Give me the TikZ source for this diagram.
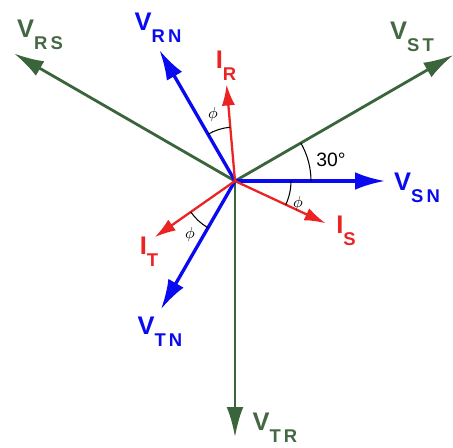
\documentclass[tikz,border=0pt]{standalone}
\usepackage{fontspec}
\setmainfont{Liberation Sans}
\usetikzlibrary{arrows.meta}

\definecolor{linegreen}{RGB}{58,100,58}
\definecolor{phaseblue}{RGB}{10,10,240}
\definecolor{currred}{RGB}{235,35,35}

\newcommand{\sub}[1]{\raisebox{-7pt}{\fontsize{10.5}{10.5}\selectfont #1}}

\tikzset{
  linevec/.style={linegreen,line width=1.6pt,-{Latex[length=17pt,width=9.5pt]}},
  phasevec/.style={phaseblue,line width=1.9pt,-{Latex[length=17pt,width=10pt]}},
  currvec/.style={currred,line width=1.3pt,-{Latex[length=12pt,width=7.5pt]}},
  lbl/.style={inner sep=0pt,font=\fontsize{14.5}{14.5}\selectfont\bfseries},
  angarc/.style={black,line width=0.6pt},
  anglbl/.style={inner sep=0pt,font=\fontsize{9}{9}\selectfont}
}

\begin{document}
\begin{tikzpicture}[x=0.02cm,y=0.02cm]
    \path[use as bounding box] (-235,-266) rectangle (218,181);

    % Origin
    \coordinate (O) at (0,0);

    % Line voltages
    \coordinate (vst) at (30:252);
    \coordinate (vrs) at (150:255);
    \coordinate (vtr) at (-90:256);
    \draw[linevec] (O) -- (vst);
    \draw[linevec] (O) -- (vrs);
    \draw[linevec] (O) -- (vtr);

    % Phase voltages
    \coordinate (vsn) at (0:150);
    \coordinate (vrn) at (120:151);
    \coordinate (vtn) at (240:148);
    \draw[phasevec] (O) -- (vsn);
    \draw[phasevec] (O) -- (vrn);
    \draw[phasevec] (O) -- (vtn);

    % Currents
    \coordinate (ir) at (95:97);
    \coordinate (is) at (-25:100);
    \coordinate (it) at (215:98);
    \draw[currvec] (O) -- (ir);
    \draw[currvec] (O) -- (is);
    \draw[currvec] (O) -- (it);

    % Angles
    \draw[angarc] (0:76) arc[start angle=0,end angle=30,radius=76];
    \draw[angarc] (95:54) arc[start angle=95,end angle=120,radius=54];
    \draw[angarc] (-25:56) arc[start angle=-25,end angle=0,radius=56];
    \draw[angarc] (215:54) arc[start angle=215,end angle=240,radius=54];
    \node[inner sep=0pt,font=\fontsize{11}{11}\selectfont] (a30) at (96,21) {30°};
    \node[anglbl] (phr) at (-22,66) {$\phi$};
    \node[anglbl] (phs) at (63,-23) {$\phi$};
    \node[anglbl] (pht) at (-45,-54) {$\phi$};

    % Labels
    \node[lbl,linegreen!85!gray] (lrs) at (-195,146) {V\sub{R\,S}};
    \node[lbl,linegreen!85!gray] (lst) at (177,144) {V\sub{S\,T}};
    \node[lbl,linegreen!85!gray] (ltr) at (40,-247) {V\sub{T\,R}};
    \node[lbl,phaseblue] (lrn) at (-77,153) {V\sub{R\,N}};
    \node[lbl,phaseblue] (lsn) at (182,-7) {V\sub{S\,N}};
    \node[lbl,phaseblue] (ltn) at (-75,-151) {V\sub{T\,N}};
    \node[lbl,currred] (lir) at (-9,115) {I\sub{R}};
    \node[lbl,currred] (lis) at (111,-50) {I\sub{S}};
    \node[lbl,currred] (lit) at (-86,-71) {I\sub{T}};
\end{tikzpicture}
\end{document}
